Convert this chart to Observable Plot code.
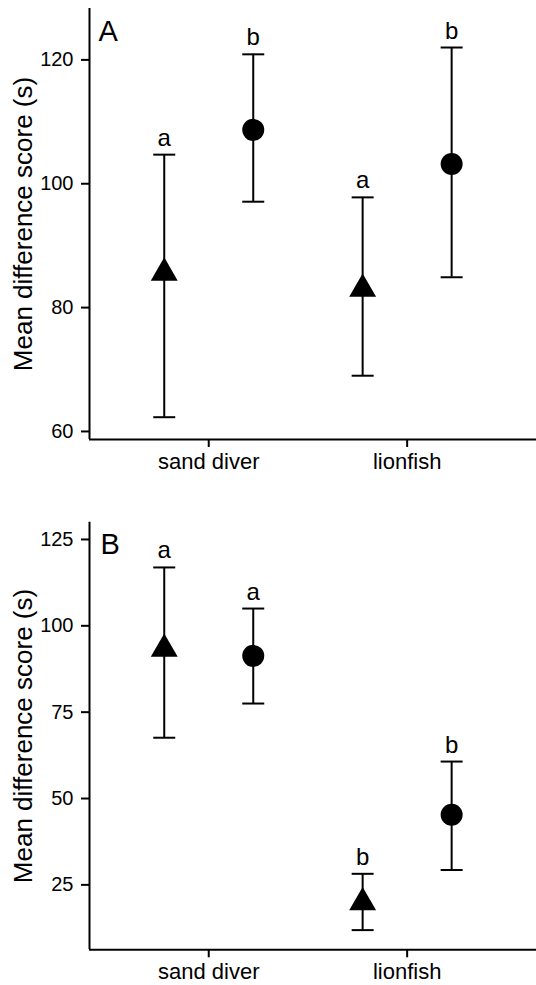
<!DOCTYPE html>
<html><head><meta charset="utf-8">
<script src="https://cdn.jsdelivr.net/npm/d3@7"></script>
<script src="https://cdn.jsdelivr.net/npm/@observablehq/plot@0.6"></script>
<style>
body{margin:0;background:#fff;}
#chart{width:536px;}
#chart svg{display:block;font-family:"Liberation Sans",Arial,Helvetica,sans-serif;}
</style>
</head><body><div id="chart"></div>
<script>
const categories = ["sand diver", "lionfish"];
const yLabel = "Mean difference score (s)";

// Panel A
const aTicks = [60, 80, 100, 120];
const aTriMean = [85.6, 83.0];
const aTriLow = [62.3, 69.0];
const aTriHigh = [104.7, 97.8];
const aTriLetter = ["a", "a"];
const aCirMean = [108.7, 103.2];
const aCirLow = [97.1, 84.9];
const aCirHigh = [120.9, 122.0];
const aCirLetter = ["b", "b"];

// Panel B
const bTicks = [25, 50, 75, 100, 125];
const bTriMean = [93.3, 19.9];
const bTriLow = [67.6, 11.9];
const bTriHigh = [116.9, 28.2];
const bTriLetter = ["a", "b"];
const bCirMean = [91.3, 45.3];
const bCirLow = [77.5, 29.3];
const bCirHigh = [105.0, 60.7];
const bCirLetter = ["a", "b"];

const capSymbol = {
  draw(context, size) {
    const r = Math.sqrt(size / Math.PI);
    context.moveTo(-r, 0);
    context.lineTo(r, 0);
  }
};

function rows(mean, low, high, letter) {
  return categories.map((c, i) => ({i, cat: c, mean: mean[i], low: low[i], high: high[i], letter: letter[i]}));
}

function panel({tag, tri, cir, ticks, yDomain, height, marginTop, marginBottom, tagDx, tagDy}) {
  const xDomain = [-0.601, 1.652];
  const groups = [
    {data: tri, dx: -44.5, symbol: "triangle", r: 10},
    {data: cir, dx: 44.5, symbol: "circle", r: 11}
  ];
  const marks = [];
  for (const g of groups) {
    marks.push(Plot.ruleX(g.data, {x: "i", y1: "low", y2: "high", dx: g.dx, stroke: "black", strokeWidth: 2}));
    marks.push(Plot.dot(g.data, {x: "i", y: "low", dx: g.dx, symbol: capSymbol, r: 11, fill: "none", stroke: "black", strokeWidth: 2}));
    marks.push(Plot.dot(g.data, {x: "i", y: "high", dx: g.dx, symbol: capSymbol, r: 11, fill: "none", stroke: "black", strokeWidth: 2}));
    marks.push(Plot.dot(g.data, {x: "i", y: "mean", dx: g.dx, symbol: g.symbol, r: g.r, fill: "black", stroke: "none"}));
    marks.push(Plot.text(g.data, {x: "i", y: "high", text: "letter", dx: g.dx, dy: -9, lineAnchor: "bottom", fontSize: 24, fill: "black"}));
  }
  marks.push(Plot.ruleX([xDomain[0]], {stroke: "black", strokeWidth: 2}));
  marks.push(Plot.ruleY([yDomain[0]], {stroke: "black", strokeWidth: 2}));
  marks.push(Plot.axisY({ticks, tickSize: 8, tickPadding: 8, fontSize: 20, strokeWidth: 2, label: null}));
  marks.push(Plot.axisX({ticks: [0, 1], tickFormat: i => categories[i], tickSize: 8, tickPadding: 6, fontSize: 22, strokeWidth: 2, label: null}));
  marks.push(Plot.text([yLabel], {text: d => d, frameAnchor: "left", rotate: -90, dx: -66, textAnchor: "middle", lineAnchor: "middle", fontSize: 26, fill: "black"}));
  marks.push(Plot.text([tag], {text: d => d, frameAnchor: "top-left", dx: tagDx, dy: tagDy, textAnchor: "start", lineAnchor: "top", fontSize: 29, fill: "black"}));
  return Plot.plot({
    width: 536,
    height,
    marginTop,
    marginBottom,
    marginLeft: 89,
    marginRight: 0,
    style: {fontFamily: '"Liberation Sans", Arial, Helvetica, sans-serif', color: "black", background: "white"},
    x: {type: "linear", domain: xDomain, axis: null},
    y: {domain: yDomain, axis: null},
    marks
  });
}

const chart = document.getElementById("chart");
chart.append(panel({
  tag: "A",
  tri: rows(aTriMean, aTriLow, aTriHigh, aTriLetter),
  cir: rows(aCirMean, aCirLow, aCirHigh, aCirLetter),
  ticks: aTicks, yDomain: [58.7, 128.3], height: 490, marginTop: 8, marginBottom: 51, tagDx: 9, tagDy: 12
}));
chart.append(panel({
  tag: "B",
  tri: rows(bTriMean, bTriLow, bTriHigh, bTriLetter),
  cir: rows(bCirMean, bCirLow, bCirHigh, bCirLetter),
  ticks: bTicks, yDomain: [6.2, 130], height: 495, marginTop: 31.7, marginBottom: 35.7, tagDx: 11, tagDy: 11
}));
</script>
</body></html>
